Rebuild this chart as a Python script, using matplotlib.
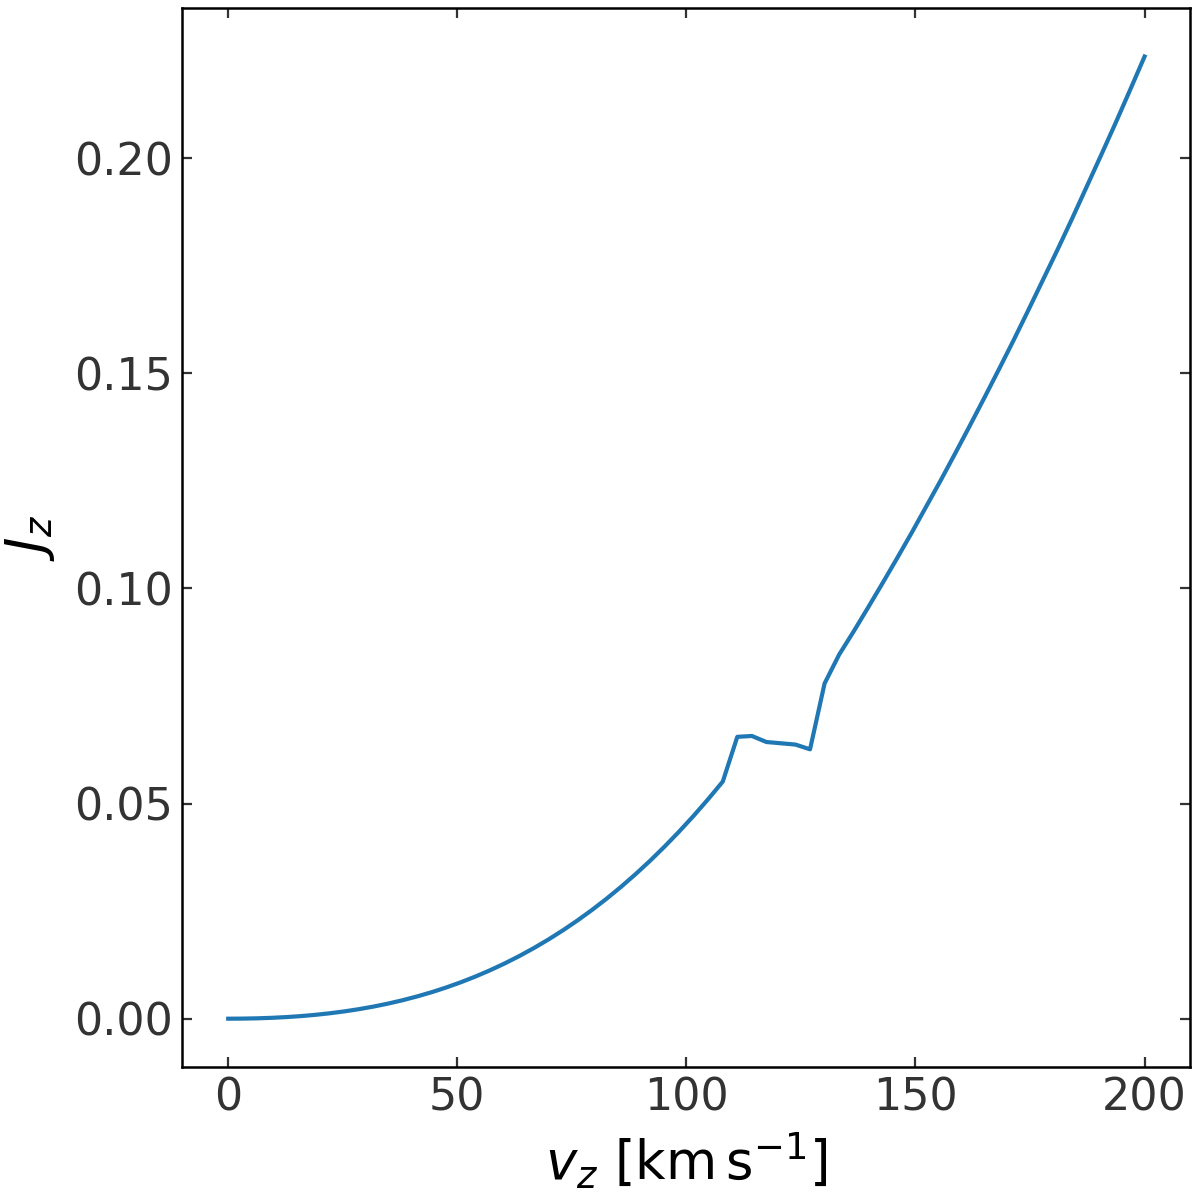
import numpy as np
import matplotlib
matplotlib.use("Agg")
import matplotlib.pyplot as plt

# vertical velocity grid (km/s) and vertical action values
vz = np.linspace(0, 200, 64)
Jz = [0.0, 0.000021, 0.000087, 0.000203, 0.000374, 0.000605, 0.000900, 0.001265,
      0.001705, 0.002223, 0.002825, 0.003516, 0.004301, 0.005185, 0.006171, 0.007268,
      0.008475, 0.009801, 0.011252, 0.012828, 0.014537, 0.016387, 0.018375, 0.020509,
      0.022802, 0.025246, 0.027851, 0.030629, 0.033572, 0.036692, 0.040000, 0.043486,
      0.047162, 0.051034, 0.0551, 0.0655, 0.0657, 0.0643, 0.0640, 0.0637,
      0.0626, 0.0779, 0.0846, 0.0900, 0.0956, 0.1013, 0.1071, 0.1130,
      0.1191, 0.1252, 0.1315, 0.1379, 0.1444, 0.1510, 0.1577, 0.1646,
      0.1716, 0.1786, 0.1858, 0.1932, 0.2006, 0.2081, 0.2158, 0.2236]

xticks = [0, 50, 100, 150, 200]
yticks = [0.00, 0.05, 0.10, 0.15, 0.20]

fig = plt.figure(figsize=(6, 6), dpi=200)
ax = fig.add_axes([0.152, 0.111, 0.840, 0.882])
ax.plot(vz, Jz, color="#1f77b4", lw=1.5)

ax.set_xticks(xticks)
ax.set_yticks(yticks)
ax.set_yticklabels([f"{t:.2f}" for t in yticks])
ax.tick_params(direction="in", top=True, right=True, length=3.5, width=0.8,
               color="#333333", labelcolor="#333333", labelsize=16, pad=3.5)
for s in ax.spines.values():
    s.set_color("black")
    s.set_linewidth(0.9)

ax.set_xlabel(r"$v_z\ [\mathrm{km\,s^{-1}}]$", fontsize=19, color="black", labelpad=4)
ax.set_ylabel(r"$J_z$", fontsize=19, color="black", labelpad=6)

fig.savefig("out.png", dpi=200)
